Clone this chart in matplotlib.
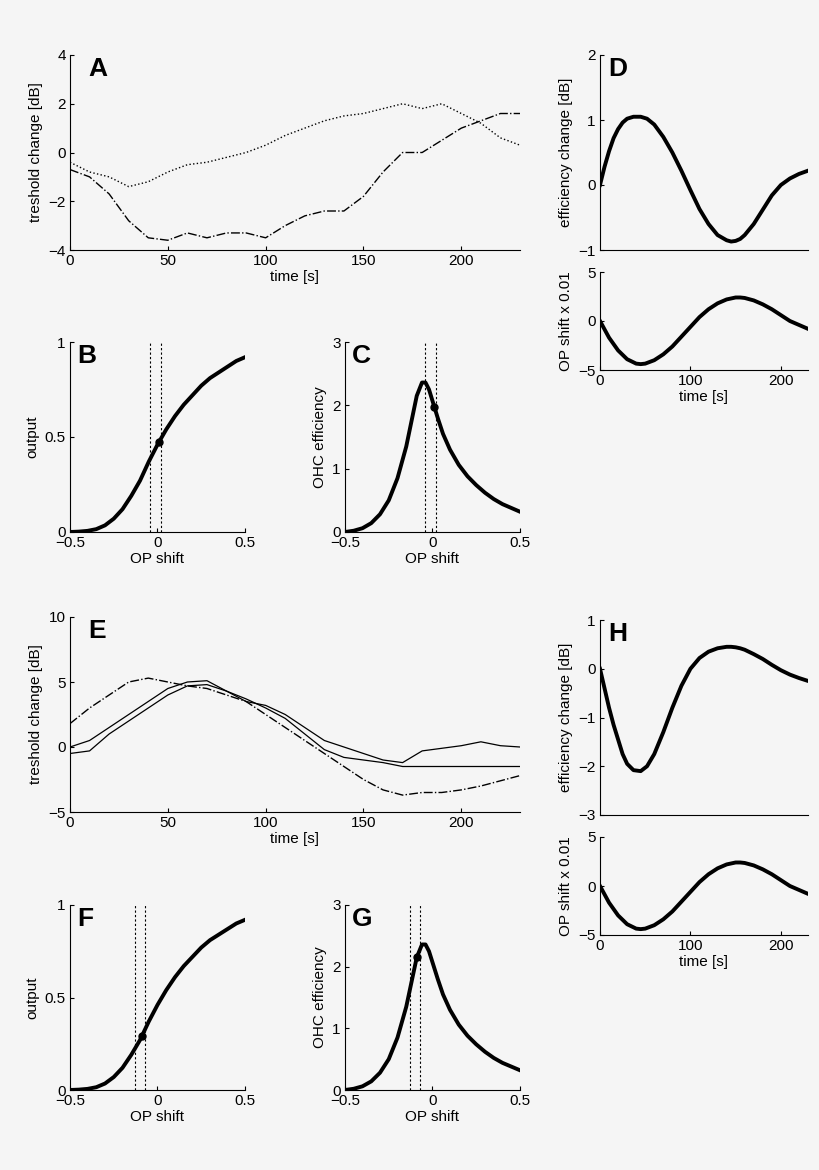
import matplotlib
matplotlib.use("Agg")
import matplotlib.pyplot as plt
import numpy as np

plt.rcParams["font.family"] = ["Liberation Sans", "DejaVu Sans"]
plt.rcParams["font.size"] = 11

BG = "#f5f5f5"

# ---- data ----
t_a = [0, 10, 20, 30, 40, 50, 60, 70, 80, 90, 100, 110, 120, 130, 140, 150, 160, 170, 180, 190, 200, 210, 220, 230]
a_dotted = [-0.4, -0.8, -1.0, -1.4, -1.2, -0.8, -0.5, -0.4, -0.2, 0.0, 0.3, 0.7, 1.0, 1.3, 1.5, 1.6, 1.8, 2.0, 1.8, 2.0, 1.6, 1.2, 0.6, 0.3]
a_dashdot = [-0.7, -1.0, -1.7, -2.8, -3.5, -3.6, -3.3, -3.5, -3.3, -3.3, -3.5, -3.0, -2.6, -2.4, -2.4, -1.8, -0.8, 0.0, 0.0, 0.5, 1.0, 1.3, 1.6, 1.6]

e_dashdot = [1.8, 3.0, 4.0, 5.0, 5.3, 5.0, 4.7, 4.5, 4.0, 3.5, 2.5, 1.5, 0.5, -0.5, -1.5, -2.5, -3.3, -3.7, -3.5, -3.5, -3.3, -3.0, -2.6, -2.2]
e_solid1 = [0.0, 0.5, 1.5, 2.5, 3.5, 4.5, 5.0, 5.1, 4.3, 3.5, 3.2, 2.5, 1.5, 0.5, 0.0, -0.5, -1.0, -1.2, -0.3, -0.1, 0.1, 0.4, 0.1, 0.0]
e_solid2 = [-0.5, -0.3, 1.0, 2.0, 3.0, 4.0, 4.7, 4.8, 4.3, 3.7, 3.0, 2.2, 1.0, -0.2, -0.8, -1.0, -1.2, -1.5, -1.5, -1.5, -1.5, -1.5, -1.5, -1.5]

t_d = [0, 5, 10, 15, 20, 25, 30, 37, 45, 52, 60, 70, 80, 90, 100, 110, 120, 130, 140, 145, 150, 155, 160, 170, 180, 190, 200, 210, 220, 230]
d_eff = [0.0, 0.28, 0.52, 0.72, 0.86, 0.96, 1.02, 1.05, 1.05, 1.02, 0.93, 0.74, 0.5, 0.22, -0.08, -0.37, -0.6, -0.77, -0.85, -0.87, -0.86, -0.83, -0.77, -0.6, -0.38, -0.16, 0.0, 0.1, 0.17, 0.22]
h_eff = [0.0, -0.4, -0.8, -1.15, -1.45, -1.75, -1.95, -2.08, -2.1, -2.0, -1.75, -1.3, -0.8, -0.35, 0.0, 0.22, 0.35, 0.42, 0.45, 0.45, 0.44, 0.42, 0.39, 0.3, 0.2, 0.08, -0.03, -0.12, -0.19, -0.25]

t_shift = [0, 10, 20, 30, 40, 45, 50, 60, 70, 80, 90, 100, 110, 120, 130, 140, 150, 155, 160, 170, 180, 190, 200, 210, 220, 230]
op_shift = [0.0, -1.7, -3.0, -3.9, -4.35, -4.4, -4.35, -4.0, -3.4, -2.6, -1.6, -0.6, 0.4, 1.2, 1.8, 2.2, 2.4, 2.4, 2.35, 2.1, 1.7, 1.2, 0.6, 0.0, -0.4, -0.8]

op_x = [-0.5, -0.45, -0.4, -0.35, -0.3, -0.25, -0.2, -0.15, -0.1, -0.05, 0.0, 0.05, 0.1, 0.15, 0.2, 0.25, 0.3, 0.35, 0.4, 0.45, 0.5]
output = [0.0, 0.002, 0.006, 0.015, 0.035, 0.07, 0.12, 0.19, 0.27, 0.37, 0.46, 0.54, 0.61, 0.67, 0.72, 0.77, 0.81, 0.84, 0.87, 0.90, 0.92]
eff_x = [-0.5, -0.45, -0.4, -0.35, -0.3, -0.25, -0.2, -0.15, -0.12, -0.09, -0.06, -0.04, -0.02, 0.0, 0.03, 0.06, 0.1, 0.15, 0.2, 0.25, 0.3, 0.35, 0.4, 0.45, 0.5]
ohc_eff = [0.0, 0.02, 0.06, 0.14, 0.28, 0.5, 0.85, 1.35, 1.75, 2.15, 2.36, 2.36, 2.25, 2.07, 1.8, 1.55, 1.3, 1.06, 0.88, 0.74, 0.62, 0.52, 0.44, 0.38, 0.32]

bc_lines = [-0.04, 0.02]
bc_point = 0.01
fg_lines = [-0.13, -0.07]
fg_point = -0.09

W, H = 820, 1170
fig = plt.figure(figsize=(W / 100, H / 100), dpi=100, facecolor=BG)


def ax_px(x0, y0, x1, y1):
    ax = fig.add_axes([x0 / W, 1 - y1 / H, (x1 - x0) / W, (y1 - y0) / H])
    ax.set_facecolor(BG)
    for s in ("top", "right"):
        ax.spines[s].set_visible(False)
    ax.tick_params(direction="in", length=3, pad=3)
    return ax


def letter(ax, s):
    ax.text(0.04, 0.99, s, transform=ax.transAxes, fontsize=19, fontweight="bold", va="top")


# A
ax = ax_px(70, 55, 520, 250)
ax.plot(t_a, a_dotted, "k:", lw=1)
ax.plot(t_a, a_dashdot, "k-.", lw=1)
ax.set_xlim(0, 230); ax.set_ylim(-4, 4)
ax.set_yticks([-4, -2, 0, 2, 4]); ax.set_yticklabels(["\u22124", "\u22122", "0", "2", "4"])
ax.set_xlabel("time [s]", labelpad=1); ax.set_ylabel("treshold change [dB]")
letter(ax, "A")

# E
ax = ax_px(70, 617, 520, 812)
ax.plot(t_a, e_solid1, "k-", lw=0.9)
ax.plot(t_a, e_solid2, "k-", lw=0.9)
ax.plot(t_a, e_dashdot, "k-.", lw=1)
ax.set_xlim(0, 230); ax.set_ylim(-5, 10)
ax.set_yticks([-5, 0, 5, 10]); ax.set_yticklabels(["\u22125", "0", "5", "10"])
ax.set_xlabel("time [s]", labelpad=1); ax.set_ylabel("treshold change [dB]")
letter(ax, "E")


def sig_panel(box, x, y, lines, px, ylim, yticks, ylabels, ylabel, lab):
    ax = ax_px(*box)
    for v in lines:
        ax.axvline(v, color="k", ls=(0, (2, 2)), lw=0.8)
    ax.plot(x, y, "k-", lw=2.8)
    # operating point sits on the curve
    ax.plot([px], [np.interp(px, x, y)], "ko", ms=5)
    ax.set_xlim(-0.5, 0.5); ax.set_ylim(*ylim)
    ax.set_xticks([-0.5, 0, 0.5]); ax.set_xticklabels(["\u22120.5", "0", "0.5"])
    ax.set_yticks(yticks); ax.set_yticklabels(ylabels)
    ax.set_xlabel("OP shift", labelpad=1); ax.set_ylabel(ylabel)
    letter(ax, lab)


sig_panel((70, 342, 245, 532), op_x, output, bc_lines, bc_point, (0, 1), [0, 0.5, 1], ["0", "0.5", "1"], "output", "B")
sig_panel((345, 342, 520, 532), eff_x, ohc_eff, bc_lines, bc_point, (0, 3), [0, 1, 2, 3], ["0", "1", "2", "3"], "OHC efficiency", "C")
sig_panel((70, 905, 245, 1090), op_x, output, fg_lines, fg_point, (0, 1), [0, 0.5, 1], ["0", "0.5", "1"], "output", "F")
sig_panel((345, 905, 520, 1090), eff_x, ohc_eff, fg_lines, fg_point, (0, 3), [0, 1, 2, 3], ["0", "1", "2", "3"], "OHC efficiency", "G")


def right_pair(top, bot, eff, ylim, yticks, lab):
    ax = ax_px(*top)
    ax.plot(t_d, eff, "k-", lw=2.8)
    ax.set_xlim(0, 230); ax.set_ylim(*ylim); ax.set_yticks(yticks)
    ax.set_yticklabels([str(v).replace("-", "\u2212") for v in yticks])
    ax.set_xticks([])
    ax.set_ylabel("efficiency change [dB]")
    letter(ax, lab)
    ax2 = ax_px(*bot)
    ax2.plot(t_shift, op_shift, "k-", lw=2.8)
    ax2.set_xlim(0, 230); ax2.set_ylim(-5, 5)
    ax2.set_yticks([-5, 0, 5]); ax2.set_yticklabels(["\u22125", "0", "5"])
    ax2.set_xticks([0, 100, 200])
    ax2.set_xlabel("time [s]", labelpad=1); ax2.set_ylabel("OP shift x 0.01")


right_pair((600, 55, 808, 250), (600, 272, 808, 370), d_eff, (-1, 2), [-1, 0, 1, 2], "D")
right_pair((600, 620, 808, 815), (600, 837, 808, 935), h_eff, (-3, 1), [-3, -2, -1, 0, 1], "H")

fig.savefig("out.png", dpi=100, facecolor=BG)
